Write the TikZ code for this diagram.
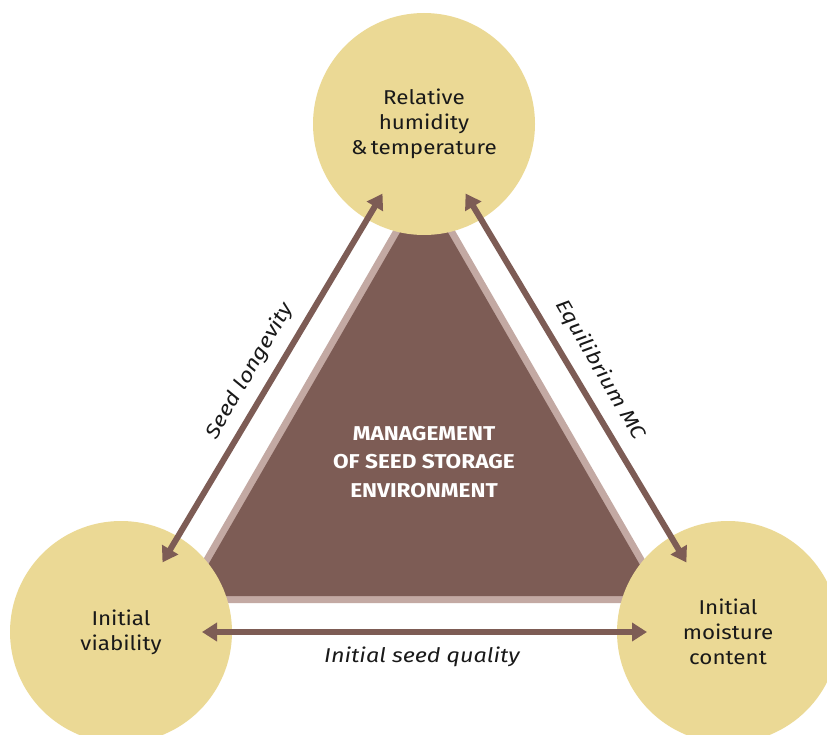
\documentclass[tikz,border=0pt]{standalone}
\usepackage{fontspec}
\setmainfont{Fira Sans}[FakeStretch=1.12]
\newfontfamily\itfont{Fira Sans}[FakeStretch=1.17]
\newfontfamily\bfont{Fira Sans}[FakeStretch=1.13]
\usetikzlibrary{arrows.meta}
\definecolor{sand}{HTML}{EBD995}
\definecolor{brownc}{HTML}{7D5C55}
\definecolor{lightb}{HTML}{C3A9A3}
\tikzset{
  circ/.style={circle, fill=sand, minimum size=222pt, inner sep=0pt, align=center,
    font=\fontsize{20}{25}\selectfont, text=black!90},
  arr/.style={draw=brownc, line width=6pt, {Triangle[width=18pt,length=15pt]}-{Triangle[width=18pt,length=15pt]},
    shorten <=81pt, shorten >=81pt},
  lbl/.style={font=\itfont\fontsize{20}{24}\selectfont\itshape, text=black!90, inner sep=0pt},
}
\begin{document}
\begin{tikzpicture}[x=1pt,y=-1pt]
\useasboundingbox (0,0) rectangle (827,735);
\clip (0,0) rectangle (827,735);
% triangle
\fill[lightb] (178,603) -- (670,603) -- (424,177) -- cycle;
\fill[brownc] (190.1,596) -- (657.9,596) -- (424,191) -- cycle;
\node[align=center, text=white, font=\bfont\fontsize{20}{28.5}\selectfont\bfseries] (M) at (424,462)
  {MANAGEMENT\\OF SEED STORAGE\\ENVIRONMENT};
% circles
\node[circ] (T) at (424,124) {Relative\\humidity\\\&\,temperature};
\node[circ] (L) at (121,632) {Initial\\viability};
\node[circ] (R) at (728,632) {Initial\\moisture\\content};
% arrows
\draw[arr] (L.center) -- (T.center);
\draw[arr] (T.center) -- (R.center);
\draw[arr] (L.center) -- (R.center);
% labels
\node[lbl, rotate=60] (sl) at (250,371) {Seed longevity};
\node[lbl, rotate=-60] (em) at (600,370) {Equilibrium MC};
\node[lbl] (iq) at (422,657) {Initial seed quality};
\end{tikzpicture}
\end{document}
